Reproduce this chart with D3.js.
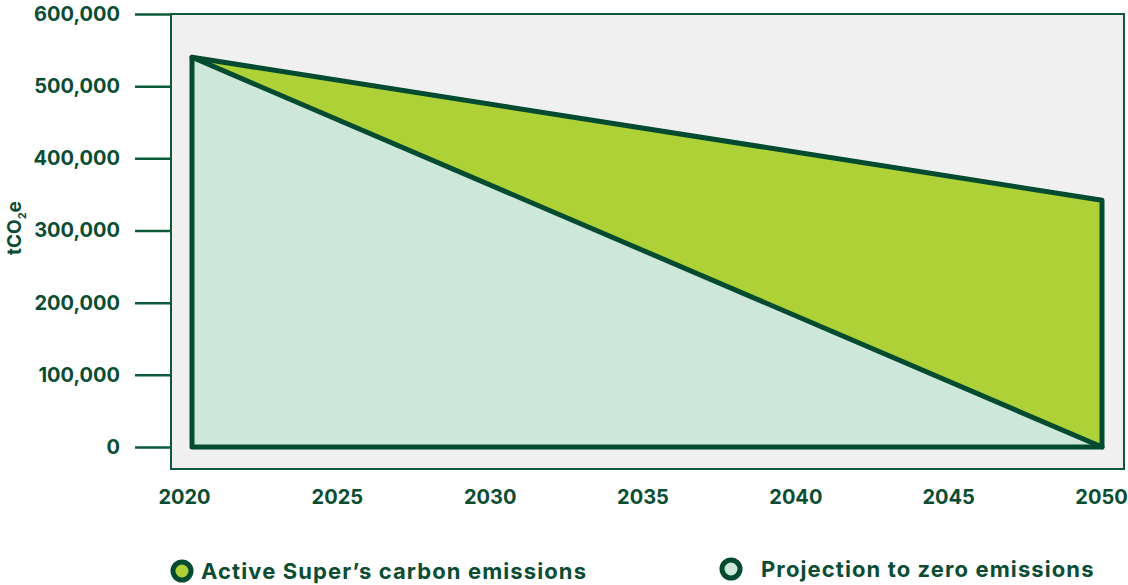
<!DOCTYPE html>
<html>
<head>
<meta charset="utf-8">
<script src="https://cdn.jsdelivr.net/npm/d3@7"></script>
<style>
  body { margin: 0; background: #fff; }
  text { font-family: Inter, "Open Sans", sans-serif; font-weight: 700; fill: #0b4d33; }
</style>
</head>
<body>
<svg id="chart" width="1128" height="585"></svg>
<script>
// data
var years = [2020, 2050];
var activeEmissions = [540000, 342000];
var projectionEmissions = [540000, 0];
var yTicks = [0, 100000, 200000, 300000, 400000, 500000, 600000];
var xTicks = [2020, 2025, 2030, 2035, 2040, 2045, 2050];
var legendLabels = ["Active Super\u2019s carbon emissions", "Projection to zero emissions"];

var dark = "#024a30";
var lime = "#add136";
var mint = "#cde8db";

var svg = d3.select("#chart");

var x = d3.scaleLinear().domain([2020, 2050]).range([192, 1102]);
// tick labels sit slightly off the data edges in the original
var xLab = d3.scaleLinear().domain([2020, 2050]).range([184, 1101]);
var y = d3.scaleLinear().domain([0, 600000]).range([447, 14]);

// panel
svg.append("rect")
    .attr("x", 171).attr("y", 14)
    .attr("width", 953).attr("height", 455)
    .attr("fill", "#f0f0f0")
    .attr("stroke", "#0b5a3a")
    .attr("stroke-width", 2);

var line = d3.line()
    .x(function(d){ return x(d[0]); })
    .y(function(d){ return y(d[1]); });

// projection triangle (mint)
var projPts = [[years[0], 0], [years[0], projectionEmissions[0]], [years[1], projectionEmissions[1]]];
svg.append("path")
    .attr("d", line(projPts) + "Z")
    .attr("fill", mint);

// gap between active and projection (lime)
var activePts = [[years[0], activeEmissions[0]], [years[1], activeEmissions[1]],
                 [years[1], projectionEmissions[1]], [years[0], projectionEmissions[0]]];
svg.append("path")
    .attr("d", line(activePts) + "Z")
    .attr("fill", lime);

// outlines
var outline = [[years[0], 0], [years[0], activeEmissions[0]], [years[1], activeEmissions[1]],
               [years[1], 0], [years[0], 0]];
svg.append("path")
    .attr("d", line(outline) + "Z")
    .attr("fill", "none")
    .attr("stroke", dark)
    .attr("stroke-width", 5)
    .attr("stroke-linejoin", "round");
svg.append("path")
    .attr("d", line([[years[0], projectionEmissions[0]], [years[1], projectionEmissions[1]]]))
    .attr("fill", "none")
    .attr("stroke", dark)
    .attr("stroke-width", 5)
    .attr("stroke-linecap", "round");

// y axis
var yAxis = d3.axisLeft(y)
    .tickValues(yTicks)
    .tickSize(36)
    .tickPadding(15)
    .tickFormat(d3.format(","));
var gy = svg.append("g")
    .attr("transform", "translate(171,0)")
    .call(yAxis);
gy.select(".domain").remove();
gy.selectAll("line").attr("stroke", "#0b5a3a").attr("stroke-width", 2.5);
gy.selectAll("text").style("font-size", "20px").attr("fill", "#0b4d33");

// x axis
var xAxis = d3.axisBottom(xLab)
    .tickValues(xTicks)
    .tickSize(0)
    .tickPadding(0)
    .tickFormat(d3.format("d"));
var gx = svg.append("g")
    .attr("transform", "translate(0,490)")
    .call(xAxis);
gx.select(".domain").remove();
gx.selectAll("text").style("font-size", "20px").attr("fill", "#0b4d33");

// y label
var yl = svg.append("text")
    .attr("transform", "translate(21,228) rotate(-90)")
    .attr("text-anchor", "middle")
    .style("font-size", "19px");
yl.append("tspan").text("tCO");
yl.append("tspan").text("2").style("font-size", "11px").attr("dy", 5);
yl.append("tspan").text("e").attr("dy", -5);

// legend
var legendPos = [[182, 571, 201], [731, 569, 761]];
var legendFill = [lime, mint];
legendLabels.forEach(function(lbl, i){
    var p = legendPos[i];
    svg.append("circle")
        .attr("cx", p[0]).attr("cy", p[1]).attr("r", 9)
        .attr("fill", legendFill[i])
        .attr("stroke", dark)
        .attr("stroke-width", 5);
    svg.append("text")
        .attr("x", p[2]).attr("y", p[1] + 8)
        .style("font-size", "22px")
        .style("letter-spacing", "1.1px")
        .text(lbl);
});
</script>
</body>
</html>
